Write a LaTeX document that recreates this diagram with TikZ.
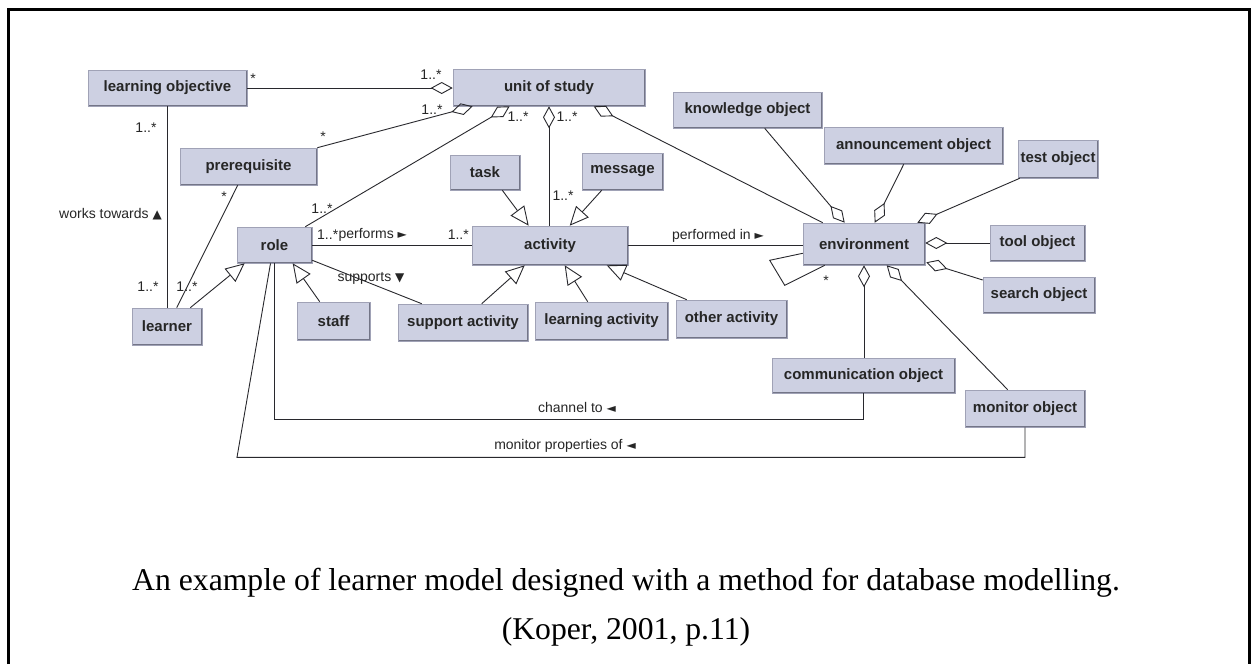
\documentclass[tikz,border=0pt]{standalone}
\usepackage{fontspec}
\setmainfont{Liberation Serif}
\setsansfont{Liberation Sans}
\newfontfamily\symfont{DejaVu Sans}
\usetikzlibrary{arrows.meta,calc}

\definecolor{boxfill}{RGB}{205,208,226}
\definecolor{boxedge}{RGB}{160,162,182}
\definecolor{boxshade}{RGB}{115,117,135}
\definecolor{linecol}{RGB}{40,40,45}

% small pointer glyphs used in association names
\newcommand{\ptrR}{{\symfont\fontsize{12}{12}\selectfont\char"25BA}}
\newcommand{\ptrL}{{\symfont\fontsize{12}{12}\selectfont\char"25C4}}
\newcommand{\ptrU}{{\symfont\fontsize{12}{12}\selectfont\char"25B2}}
\newcommand{\ptrD}{{\symfont\fontsize{12}{12}\selectfont\char"25BC}}

\begin{document}
\begin{tikzpicture}[x=1pt,y=-1pt,
  cls/.style={fill=boxfill, draw=boxedge, line width=0.6pt, inner sep=0pt,
    font=\sffamily\bfseries\fontsize{15}{15}\selectfont, text=black!85,
    path picture={\draw[boxshade, line width=2.4pt]
      (path picture bounding box.north east) -- (path picture bounding box.south east)
      -- (path picture bounding box.south west);}},
  conn/.style={draw=linecol, line width=0.9pt},
  agg/.style={conn, -{Diamond[open, length=22pt, width=12pt, line width=0.9pt]}},
  gen/.style={conn, -{Triangle[open, length=19pt, width=17pt, line width=0.9pt]}},
  lbl/.style={font=\sffamily\fontsize{14}{14}\selectfont, inner sep=0pt, text=black!85},
]
\useasboundingbox (0,0) rectangle (1252,664);
\fill[white] (0,0) rectangle (1252,664);

% page frame
\draw[line width=3pt] (8,664) -- (8,9) -- (1249,9) -- (1249,664);

% classes
\node[cls, minimum width=159pt, minimum height=36pt] (lo)    at (167.5,88)   {learning objective};
\node[cls, minimum width=192pt, minimum height=37pt] (uos)   at (549,87.5)   {unit of study};
\node[cls, minimum width=137pt, minimum height=37pt] (pre)   at (248.5,166.5){prerequisite};
\node[cls, minimum width=70pt,  minimum height=35pt] (task)  at (485,172.5)  {task};
\node[cls, minimum width=81pt,  minimum height=37pt] (msg)   at (622.5,171.5){message};
\node[cls, minimum width=149pt, minimum height=36pt] (ko)    at (747.5,110)  {knowledge object};
\node[cls, minimum width=179pt, minimum height=37pt] (ao)    at (913.5,145.5){announcement object};
\node[cls, minimum width=80pt,  minimum height=38pt] (to)    at (1058,159)   {test object};
\node[cls, minimum width=122pt, minimum height=42pt] (env)   at (864,244)    {environment};
\node[cls, minimum width=95pt,  minimum height=36pt] (tool)  at (1037.5,243) {tool object};
\node[cls, minimum width=112pt, minimum height=36pt] (srch)  at (1039,295)   {search object};
\node[cls, minimum width=183pt, minimum height=35pt] (com)   at (863.5,375.5){communication object};
\node[cls, minimum width=120pt, minimum height=37pt] (mon)   at (1025,408.5) {monitor object};
\node[cls, minimum width=75pt,  minimum height=36pt] (role)  at (274.5,245)  {role};
\node[cls, minimum width=156pt, minimum height=39pt] (act)   at (550,245.5)  {activity};
\node[cls, minimum width=70pt,  minimum height=37pt] (lrn)   at (167,326.5)  {learner};
\node[cls, minimum width=73pt,  minimum height=38pt] (staff) at (333.5,321)  {staff};
\node[cls, minimum width=130pt, minimum height=37pt] (sa)    at (463,322.5)  {support activity};
\node[cls, minimum width=133pt, minimum height=38pt] (la)    at (601.5,321)  {learning activity};
\node[cls, minimum width=111pt, minimum height=38pt] (oa)    at (731.5,319)  {other activity};

% aggregations into unit of study
\draw[agg] (lo.east) -- (lo.east -| uos.west);
\draw[agg] (pre.north east) -- ($(uos.south west)+(20,0)$);
\draw[agg] ($(role.north east)+(-7,0)$) -- ($(uos.south west)+(57,0)$);
\draw[agg] (act.north -| uos.south) -- (uos.south);
\draw[agg] ($(env.north west)+(20,0)$) -- ($(uos.south west)+(141,0)$);

% plain associations
\draw[conn] (lo.south) -- (lo.south |- lrn.north);
\draw[conn] ($(pre.south west)+(58,0)$) -- ($(lrn.north west)+(45,0)$);
\draw[conn] (role.east) -- (role.east -| act.west);
\draw[conn] ($(role.south east)+(0,-3)$) -- ($(sa.north west)+(24,0)$);
\draw[conn] (act.east) -- (act.east -| env.west);

% generalisations
\draw[gen] ($(task.south east)+(-18,0)$) -- ($(act.north west)+(57,0)$);
\draw[gen] ($(msg.south west)+(20,0)$) -- ($(act.north west)+(98,0)$);
\draw[gen] ($(lrn.north east)+(-12,0)$) -- ($(role.south west)+(8,0)$);
\draw[gen] ($(staff.north west)+(23,0)$) -- ($(role.south west)+(56,0)$);
\draw[gen] ($(sa.north west)+(84,0)$) -- ($(act.south west)+(53,0)$);
\draw[gen] ($(la.north west)+(53,0)$) -- ($(act.south west)+(93,0)$);
\draw[gen] ($(oa.north west)+(11,0)$) -- ($(act.south west)+(135,0)$);

% aggregations into environment
\draw[agg] ($(ko.south west)+(92,0)$) -- ($(env.north west)+(42,0)$);
\draw[agg] ($(ao.south west)+(80,0)$) -- ($(env.north west)+(72,0)$);
\draw[agg] ($(to.south west)+(2,0)$) -- ($(env.north east)+(-8,0)$);
\draw[agg] (tool.west) -- (tool.west -| env.east);
\draw[agg] ($(srch.west)+(0,-15)$) -- ($(env.south east)+(1,-3)$);
\draw[agg] (com.north -| env.south) -- (env.south);
\draw[agg] ($(mon.north west)+(43,0)$) -- ($(env.south west)+(84,0)$);

% self aggregation of environment
\draw[conn] ($(env.south west)+(0,-12)$) -- ($(env.south west)+(-33,-5)$)
  -- ($(env.south west)+(-18,20)$) -- ($(env.south west)+(22,0)$);

% long associations back to role
\draw[conn] (com.south) |- ($(role.south)+(0,156)$) -- (role.south);
\draw[conn] (mon.south) |- ($(role.south)+(-37.5,194)$) -- ($(role.south)+(-4,0)$);

% multiplicities and association names
\node[lbl] (m1)  at (253,79)  {*};
\node[lbl] (m2)  at (431,75)  {1..*};
\node[lbl] (m3)  at (146,128) {1..*};
\node[lbl, anchor=east] (wt) at (162,214) {works towards \ptrU};
\node[lbl] (m4)  at (148,287) {1..*};
\node[lbl] (m5)  at (323,137) {*};
\node[lbl] (m6)  at (432,110) {1..*};
\node[lbl] (m7)  at (224,197) {*};
\node[lbl] (m8)  at (187,287) {1..*};
\node[lbl] (m9)  at (322,209) {1..*};
\node[lbl] (m10) at (518,117) {1..*};
\node[lbl] (m11) at (567,117) {1..*};
\node[lbl] (m12) at (563,196) {1..*};
\node[lbl, anchor=west] (m13) at (317,235) {1..*};
\node[lbl, anchor=west] (pf) at (m13.east) {performs \ptrR};
\node[lbl, anchor=east] (m14) at (469,235) {1..*};
\node[lbl] (sp)  at (371,278) {supports \ptrD};
\node[lbl] (pi)  at (718,236) {performed in \ptrR};
\node[lbl] (m15) at (826,281) {*};
\node[lbl] (ch)  at (577,407) {channel to \ptrL};
\node[lbl] (mp)  at (565,446) {monitor properties of \ptrL};

% caption
\node[font=\fontsize{31.7}{31.7}\selectfont, inner sep=0pt] (cap1) at (626,583)
  {An example of learner model designed with a method for database modelling.};
\node[font=\fontsize{31.7}{31.7}\selectfont, inner sep=0pt] (cap2) at (626,632)
  {(Koper, 2001, p.11)};
\end{tikzpicture}
\end{document}
